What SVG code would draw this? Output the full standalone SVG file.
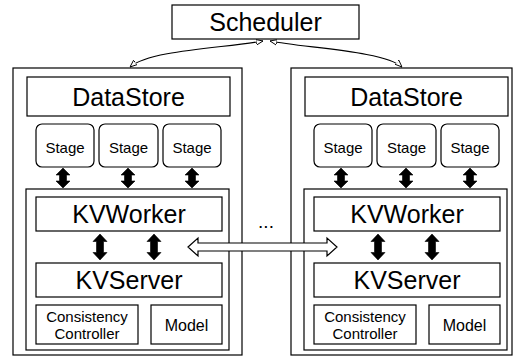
<svg xmlns="http://www.w3.org/2000/svg" xmlns:xlink="http://www.w3.org/1999/xlink" width="513" height="356" viewBox="0 0 513 356">
<style>
.box{fill:#fff;stroke:#000;stroke-width:1.2}
.t{font-family:"Liberation Sans",Arial,sans-serif;fill:#000;text-anchor:middle}
.big{font-size:25px}
.sm{font-size:15px}
.md{font-size:16px}
.dots{font-size:19px}
.thick{fill:#000;stroke:#000;stroke-width:0.6}
.link{fill:none;stroke:#000;stroke-width:1.1}
</style>
<defs>
<marker id="ah" viewBox="0 0 10 10" refX="10" refY="5" markerWidth="7" markerHeight="7" markerUnits="userSpaceOnUse" orient="auto-start-reverse">
<path d="M0,1 L10,5 L0,9 Z" fill="#fff" stroke="#000" stroke-width="1.3"/>
</marker>
<path id="dshort" d="M0,0 L7,7 L3.5,7 L3.5,13 L7,13 L0,20 L-7,13 L-3.5,13 L-3.5,7 L-7,7 Z"/>
<path id="dlong" d="M0,0 L7,7.5 L3.5,7.5 L3.5,18.5 L7,18.5 L0,26 L-7,18.5 L-3.5,18.5 L-3.5,7.5 L-7,7.5 Z"/>
</defs>
<rect width="513" height="356" fill="#fff"/>

<g id="scheduler">
<rect class="box" x="172" y="5" width="187" height="34"/>
<text class="t big" x="265.5" y="31">Scheduler</text>
</g>

<g id="node-left">
<rect class="box" x="13" y="68" width="229" height="287"/>
<g id="datastore-left"><rect class="box" x="27" y="77" width="203" height="39"/><text class="t big" x="128.5" y="106">DataStore</text></g>
<g id="stage-left-1"><rect class="box" x="36" y="124" width="58" height="43" rx="6"/><text class="t sm" x="65" y="153">Stage</text></g>
<g id="stage-left-2"><rect class="box" x="99" y="124" width="59" height="43" rx="6"/><text class="t sm" x="128.5" y="153">Stage</text></g>
<g id="stage-left-3"><rect class="box" x="163" y="124" width="58" height="43" rx="6"/><text class="t sm" x="192" y="153">Stage</text></g>
<rect class="box" x="26" y="189" width="203" height="161"/>
<g id="kvworker-left"><rect class="box" x="36" y="197" width="186" height="34"/><text class="t big" x="129" y="223">KVWorker</text></g>
<g id="kvserver-left"><rect class="box" x="36" y="263" width="186" height="34"/><text class="t big" x="129" y="289">KVServer</text></g>
<g id="consistency-left"><rect class="box" x="36" y="305" width="102" height="39"/><text class="t sm" x="87" y="322">Consistency</text><text class="t sm" x="87" y="339">Controller</text></g>
<g id="model-left"><rect class="box" x="151" y="305" width="71" height="39"/><text class="t md" x="186.5" y="331">Model</text></g>
</g>

<g id="node-right">
<rect class="box" x="291" y="68" width="221" height="287"/>
<g id="datastore-right"><rect class="box" x="305" y="77" width="203" height="39"/><text class="t big" x="406.5" y="106">DataStore</text></g>
<g id="stage-right-1"><rect class="box" x="314" y="124" width="58" height="43" rx="6"/><text class="t sm" x="343" y="153">Stage</text></g>
<g id="stage-right-2"><rect class="box" x="377" y="124" width="59" height="43" rx="6"/><text class="t sm" x="406.5" y="153">Stage</text></g>
<g id="stage-right-3"><rect class="box" x="441" y="124" width="58" height="43" rx="6"/><text class="t sm" x="470" y="153">Stage</text></g>
<rect class="box" x="304" y="189" width="203" height="161"/>
<g id="kvworker-right"><rect class="box" x="314" y="197" width="186" height="34"/><text class="t big" x="407" y="223">KVWorker</text></g>
<g id="kvserver-right"><rect class="box" x="314" y="263" width="186" height="34"/><text class="t big" x="407" y="289">KVServer</text></g>
<g id="consistency-right"><rect class="box" x="314" y="305" width="102" height="39"/><text class="t sm" x="365" y="322">Consistency</text><text class="t sm" x="365" y="339">Controller</text></g>
<g id="model-right"><rect class="box" x="429" y="305" width="71" height="39"/><text class="t md" x="464.5" y="331">Model</text></g>
</g>

<g id="ellipsis"><text class="t dots" x="266" y="228">...</text></g>

<g id="connectors">
<path class="link" d="M263,41 C225,48 150,50 130,67" marker-start="url(#ah)" marker-end="url(#ah)"/>
<path class="link" d="M270,41 C305,48 385,51 402,67" marker-start="url(#ah)" marker-end="url(#ah)"/>
<use href="#dshort" class="thick" x="63" y="168"/>
<use href="#dshort" class="thick" x="128" y="168"/>
<use href="#dshort" class="thick" x="192" y="168"/>
<use href="#dshort" class="thick" x="341" y="168"/>
<use href="#dshort" class="thick" x="406" y="168"/>
<use href="#dshort" class="thick" x="470" y="168"/>
<use href="#dlong" class="thick" x="100" y="234"/>
<use href="#dlong" class="thick" x="154" y="234"/>
<use href="#dlong" class="thick" x="378" y="234"/>
<use href="#dlong" class="thick" x="432" y="234"/>
<path d="M188,247 L198,238 L198,243 L327,243 L327,238 L337,247 L327,256 L327,251 L198,251 L198,256 Z" fill="#fff" stroke="#000" stroke-width="1.2"/>
</g>
</svg>
